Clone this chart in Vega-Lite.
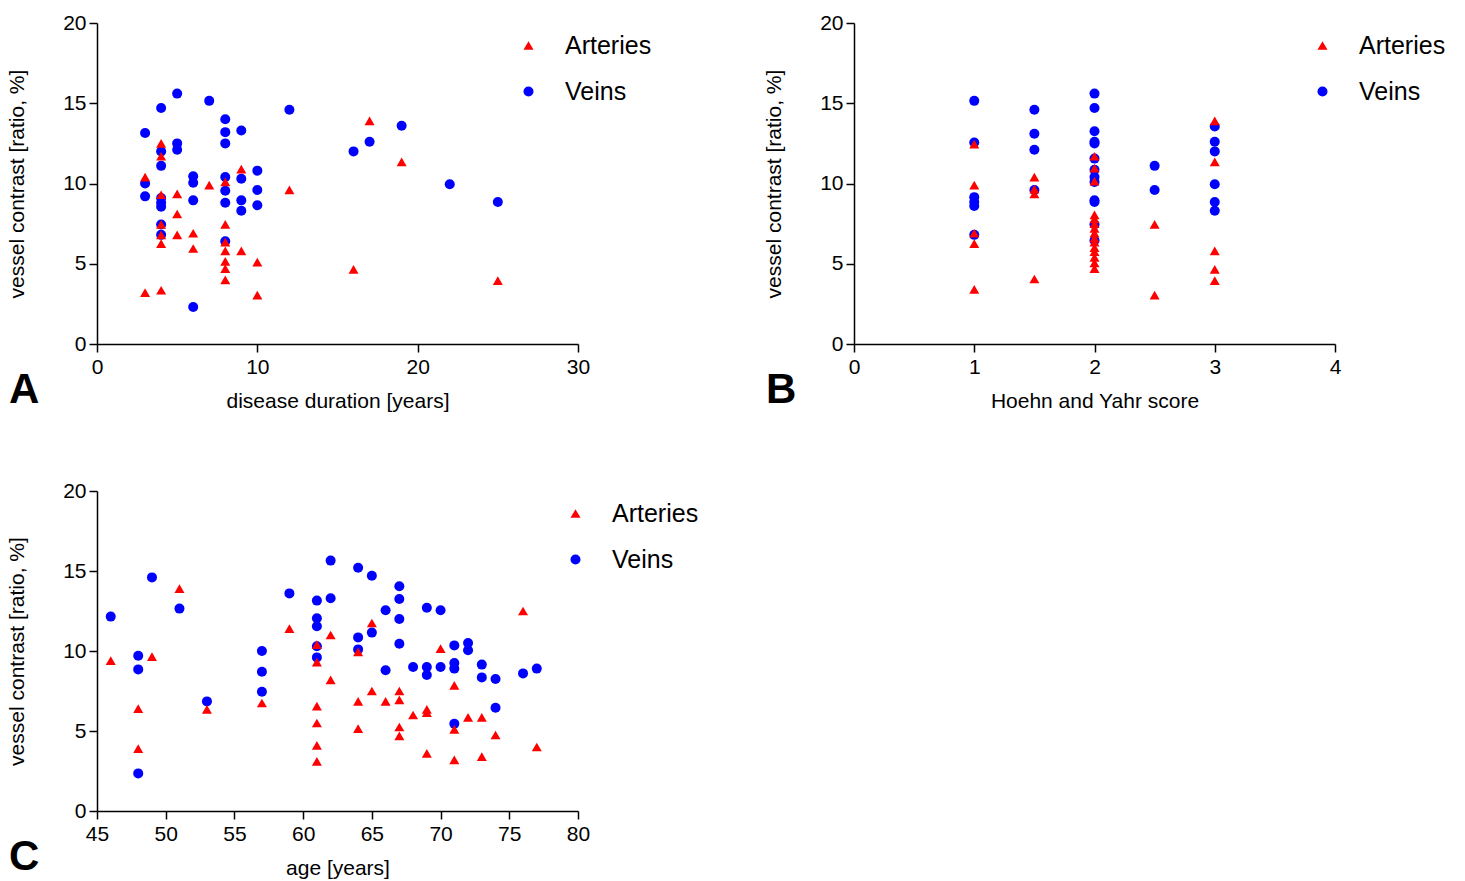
{
  "$schema": "https://vega.github.io/schema/vega-lite/v6.json",
  "autosize": "none",
  "padding": {"left": 97, "top": 23, "right": 1368, "bottom": 858},
  "background": "white",
  "config": {
    "font": "Liberation Sans",
    "view": {"stroke": null},
    "axis": {
      "grid": false,
      "labelFlush": false,
      "labelOverlap": false,
      "domainColor": "black",
      "domainWidth": 1.5,
      "tickColor": "black",
      "tickWidth": 1.5,
      "tickSize": 8,
      "labelFont": "Liberation Sans",
      "labelFontSize": 21,
      "labelColor": "black",
      "titleFont": "Liberation Sans",
      "titleFontSize": 21,
      "titleFontWeight": "normal",
      "titleColor": "black"
    },
    "axisX": {"labelPadding": 4, "titlePadding": 13},
    "axisY": {"labelPadding": 3, "titlePadding": 35},
    "legend": {
      "orient": "none",
      "title": null,
      "labelFont": "Liberation Sans",
      "labelFontSize": 25,
      "labelColor": "black",
      "symbolSize": 100,
      "rowPadding": 20,
      "labelOffset": 24,
      "padding": 0
    },
    "title": {
      "orient": "bottom",
      "anchor": "start",
      "frame": "group",
      "font": "Liberation Sans",
      "fontSize": 42,
      "fontWeight": "bold",
      "color": "black",
      "dx": -88,
      "offset": -41
    }
  },
  "datasets": {
    "dur": [
      {"vessel": "Veins", "duration": 5, "contrast": 15.6},
      {"vessel": "Veins", "duration": 4, "contrast": 14.7},
      {"vessel": "Veins", "duration": 7, "contrast": 15.15},
      {"vessel": "Veins", "duration": 12, "contrast": 14.6},
      {"vessel": "Veins", "duration": 8, "contrast": 14.0},
      {"vessel": "Veins", "duration": 3, "contrast": 13.15},
      {"vessel": "Veins", "duration": 8, "contrast": 13.2},
      {"vessel": "Veins", "duration": 9, "contrast": 13.3},
      {"vessel": "Veins", "duration": 8, "contrast": 12.5},
      {"vessel": "Veins", "duration": 5, "contrast": 12.5},
      {"vessel": "Veins", "duration": 4, "contrast": 12.0},
      {"vessel": "Veins", "duration": 5, "contrast": 12.1},
      {"vessel": "Veins", "duration": 4, "contrast": 11.1},
      {"vessel": "Veins", "duration": 6, "contrast": 10.45},
      {"vessel": "Veins", "duration": 6, "contrast": 10.05},
      {"vessel": "Veins", "duration": 8, "contrast": 10.4},
      {"vessel": "Veins", "duration": 9, "contrast": 10.3},
      {"vessel": "Veins", "duration": 10, "contrast": 10.8},
      {"vessel": "Veins", "duration": 3, "contrast": 10.0},
      {"vessel": "Veins", "duration": 3, "contrast": 9.2},
      {"vessel": "Veins", "duration": 8, "contrast": 9.55},
      {"vessel": "Veins", "duration": 10, "contrast": 9.6},
      {"vessel": "Veins", "duration": 4, "contrast": 9.1},
      {"vessel": "Veins", "duration": 4, "contrast": 8.8},
      {"vessel": "Veins", "duration": 4, "contrast": 8.55},
      {"vessel": "Veins", "duration": 6, "contrast": 8.95},
      {"vessel": "Veins", "duration": 8, "contrast": 8.8},
      {"vessel": "Veins", "duration": 9, "contrast": 8.95},
      {"vessel": "Veins", "duration": 9, "contrast": 8.3},
      {"vessel": "Veins", "duration": 10, "contrast": 8.65},
      {"vessel": "Veins", "duration": 4, "contrast": 7.45},
      {"vessel": "Veins", "duration": 4, "contrast": 6.8},
      {"vessel": "Veins", "duration": 8, "contrast": 6.4},
      {"vessel": "Veins", "duration": 6, "contrast": 2.3},
      {"vessel": "Veins", "duration": 19, "contrast": 13.6},
      {"vessel": "Veins", "duration": 17, "contrast": 12.6},
      {"vessel": "Veins", "duration": 16, "contrast": 12.0},
      {"vessel": "Veins", "duration": 22, "contrast": 9.95},
      {"vessel": "Veins", "duration": 25, "contrast": 8.85},
      {"vessel": "Arteries", "duration": 4, "contrast": 12.5},
      {"vessel": "Arteries", "duration": 4, "contrast": 11.7},
      {"vessel": "Arteries", "duration": 3, "contrast": 10.4},
      {"vessel": "Arteries", "duration": 9, "contrast": 10.9},
      {"vessel": "Arteries", "duration": 8, "contrast": 10.1},
      {"vessel": "Arteries", "duration": 7, "contrast": 9.9},
      {"vessel": "Arteries", "duration": 12, "contrast": 9.6},
      {"vessel": "Arteries", "duration": 4, "contrast": 9.3},
      {"vessel": "Arteries", "duration": 5, "contrast": 9.35},
      {"vessel": "Arteries", "duration": 5, "contrast": 8.1},
      {"vessel": "Arteries", "duration": 8, "contrast": 7.45},
      {"vessel": "Arteries", "duration": 4, "contrast": 7.45},
      {"vessel": "Arteries", "duration": 4, "contrast": 6.8},
      {"vessel": "Arteries", "duration": 5, "contrast": 6.8},
      {"vessel": "Arteries", "duration": 6, "contrast": 6.9},
      {"vessel": "Arteries", "duration": 4, "contrast": 6.25},
      {"vessel": "Arteries", "duration": 6, "contrast": 5.95},
      {"vessel": "Arteries", "duration": 8, "contrast": 6.35},
      {"vessel": "Arteries", "duration": 8, "contrast": 5.8},
      {"vessel": "Arteries", "duration": 8, "contrast": 5.15},
      {"vessel": "Arteries", "duration": 9, "contrast": 5.8},
      {"vessel": "Arteries", "duration": 8, "contrast": 4.7},
      {"vessel": "Arteries", "duration": 10, "contrast": 5.1},
      {"vessel": "Arteries", "duration": 8, "contrast": 4.0},
      {"vessel": "Arteries", "duration": 3, "contrast": 3.2},
      {"vessel": "Arteries", "duration": 4, "contrast": 3.35},
      {"vessel": "Arteries", "duration": 10, "contrast": 3.05},
      {"vessel": "Arteries", "duration": 17, "contrast": 13.9},
      {"vessel": "Arteries", "duration": 19, "contrast": 11.35},
      {"vessel": "Arteries", "duration": 16, "contrast": 4.65},
      {"vessel": "Arteries", "duration": 25, "contrast": 3.95}
    ],
    "hy": [
      {"vessel": "Veins", "score": 1, "contrast": 15.15},
      {"vessel": "Veins", "score": 1, "contrast": 12.55},
      {"vessel": "Veins", "score": 1, "contrast": 9.15},
      {"vessel": "Veins", "score": 1, "contrast": 8.85},
      {"vessel": "Veins", "score": 1, "contrast": 8.6},
      {"vessel": "Veins", "score": 1, "contrast": 6.8},
      {"vessel": "Veins", "score": 1.5, "contrast": 14.6},
      {"vessel": "Veins", "score": 1.5, "contrast": 13.1},
      {"vessel": "Veins", "score": 1.5, "contrast": 12.1},
      {"vessel": "Veins", "score": 1.5, "contrast": 9.6},
      {"vessel": "Veins", "score": 2, "contrast": 15.6},
      {"vessel": "Veins", "score": 2, "contrast": 14.7},
      {"vessel": "Veins", "score": 2, "contrast": 13.25},
      {"vessel": "Veins", "score": 2, "contrast": 12.6},
      {"vessel": "Veins", "score": 2, "contrast": 12.5},
      {"vessel": "Veins", "score": 2, "contrast": 11.55},
      {"vessel": "Veins", "score": 2, "contrast": 10.85},
      {"vessel": "Veins", "score": 2, "contrast": 10.4},
      {"vessel": "Veins", "score": 2, "contrast": 10.1},
      {"vessel": "Veins", "score": 2, "contrast": 8.95},
      {"vessel": "Veins", "score": 2, "contrast": 8.85},
      {"vessel": "Veins", "score": 2, "contrast": 7.45},
      {"vessel": "Veins", "score": 2, "contrast": 6.45},
      {"vessel": "Veins", "score": 2.5, "contrast": 11.1},
      {"vessel": "Veins", "score": 2.5, "contrast": 9.6},
      {"vessel": "Veins", "score": 3, "contrast": 13.55},
      {"vessel": "Veins", "score": 3, "contrast": 12.6},
      {"vessel": "Veins", "score": 3, "contrast": 12.0},
      {"vessel": "Veins", "score": 3, "contrast": 9.95},
      {"vessel": "Veins", "score": 3, "contrast": 8.85},
      {"vessel": "Veins", "score": 3, "contrast": 8.3},
      {"vessel": "Arteries", "score": 1, "contrast": 12.45},
      {"vessel": "Arteries", "score": 1, "contrast": 9.9},
      {"vessel": "Arteries", "score": 1, "contrast": 6.9},
      {"vessel": "Arteries", "score": 1, "contrast": 6.25},
      {"vessel": "Arteries", "score": 1, "contrast": 3.4},
      {"vessel": "Arteries", "score": 1.5, "contrast": 10.4},
      {"vessel": "Arteries", "score": 1.5, "contrast": 9.65},
      {"vessel": "Arteries", "score": 1.5, "contrast": 9.35},
      {"vessel": "Arteries", "score": 1.5, "contrast": 4.05},
      {"vessel": "Arteries", "score": 2, "contrast": 11.7},
      {"vessel": "Arteries", "score": 2, "contrast": 10.95},
      {"vessel": "Arteries", "score": 2, "contrast": 10.15},
      {"vessel": "Arteries", "score": 2, "contrast": 8.05},
      {"vessel": "Arteries", "score": 2, "contrast": 7.8},
      {"vessel": "Arteries", "score": 2, "contrast": 7.5},
      {"vessel": "Arteries", "score": 2, "contrast": 7.2},
      {"vessel": "Arteries", "score": 2, "contrast": 6.9},
      {"vessel": "Arteries", "score": 2, "contrast": 6.6},
      {"vessel": "Arteries", "score": 2, "contrast": 6.35},
      {"vessel": "Arteries", "score": 2, "contrast": 6.0},
      {"vessel": "Arteries", "score": 2, "contrast": 5.75},
      {"vessel": "Arteries", "score": 2, "contrast": 5.4},
      {"vessel": "Arteries", "score": 2, "contrast": 5.05},
      {"vessel": "Arteries", "score": 2, "contrast": 4.7},
      {"vessel": "Arteries", "score": 2.5, "contrast": 7.45},
      {"vessel": "Arteries", "score": 2.5, "contrast": 3.05},
      {"vessel": "Arteries", "score": 3, "contrast": 13.9},
      {"vessel": "Arteries", "score": 3, "contrast": 11.35},
      {"vessel": "Arteries", "score": 3, "contrast": 5.8},
      {"vessel": "Arteries", "score": 3, "contrast": 4.65},
      {"vessel": "Arteries", "score": 3, "contrast": 3.95}
    ],
    "age": [
      {"vessel": "Veins", "age": 46, "contrast": 12.15},
      {"vessel": "Veins", "age": 48, "contrast": 9.7},
      {"vessel": "Veins", "age": 48, "contrast": 8.85},
      {"vessel": "Veins", "age": 48, "contrast": 2.35},
      {"vessel": "Veins", "age": 49, "contrast": 14.6},
      {"vessel": "Veins", "age": 51, "contrast": 12.65},
      {"vessel": "Veins", "age": 53, "contrast": 6.85},
      {"vessel": "Veins", "age": 57, "contrast": 10.0},
      {"vessel": "Veins", "age": 57, "contrast": 8.7},
      {"vessel": "Veins", "age": 57, "contrast": 7.45},
      {"vessel": "Veins", "age": 59, "contrast": 13.6},
      {"vessel": "Veins", "age": 61, "contrast": 13.15},
      {"vessel": "Veins", "age": 61, "contrast": 12.05},
      {"vessel": "Veins", "age": 61, "contrast": 11.55},
      {"vessel": "Veins", "age": 61, "contrast": 10.3},
      {"vessel": "Veins", "age": 61, "contrast": 9.6},
      {"vessel": "Veins", "age": 62, "contrast": 15.65},
      {"vessel": "Veins", "age": 62, "contrast": 13.3},
      {"vessel": "Veins", "age": 64, "contrast": 15.2},
      {"vessel": "Veins", "age": 65, "contrast": 14.7},
      {"vessel": "Veins", "age": 67, "contrast": 14.05},
      {"vessel": "Veins", "age": 67, "contrast": 13.25},
      {"vessel": "Veins", "age": 66, "contrast": 12.55},
      {"vessel": "Veins", "age": 67, "contrast": 12.0},
      {"vessel": "Veins", "age": 69, "contrast": 12.7},
      {"vessel": "Veins", "age": 70, "contrast": 12.55},
      {"vessel": "Veins", "age": 64, "contrast": 10.85},
      {"vessel": "Veins", "age": 65, "contrast": 11.15},
      {"vessel": "Veins", "age": 64, "contrast": 10.1},
      {"vessel": "Veins", "age": 67, "contrast": 10.45},
      {"vessel": "Veins", "age": 71, "contrast": 10.35},
      {"vessel": "Veins", "age": 72, "contrast": 10.5},
      {"vessel": "Veins", "age": 72, "contrast": 10.05},
      {"vessel": "Veins", "age": 66, "contrast": 8.8},
      {"vessel": "Veins", "age": 68, "contrast": 9.0},
      {"vessel": "Veins", "age": 69, "contrast": 9.0},
      {"vessel": "Veins", "age": 69, "contrast": 8.5},
      {"vessel": "Veins", "age": 70, "contrast": 9.0},
      {"vessel": "Veins", "age": 71, "contrast": 9.25},
      {"vessel": "Veins", "age": 71, "contrast": 8.9},
      {"vessel": "Veins", "age": 73, "contrast": 9.15},
      {"vessel": "Veins", "age": 73, "contrast": 8.35},
      {"vessel": "Veins", "age": 74, "contrast": 8.25},
      {"vessel": "Veins", "age": 76, "contrast": 8.6},
      {"vessel": "Veins", "age": 77, "contrast": 8.9},
      {"vessel": "Veins", "age": 74, "contrast": 6.45},
      {"vessel": "Veins", "age": 71, "contrast": 5.45},
      {"vessel": "Arteries", "age": 46, "contrast": 9.4},
      {"vessel": "Arteries", "age": 48, "contrast": 6.4},
      {"vessel": "Arteries", "age": 48, "contrast": 3.9},
      {"vessel": "Arteries", "age": 49, "contrast": 9.65},
      {"vessel": "Arteries", "age": 51, "contrast": 13.9},
      {"vessel": "Arteries", "age": 53, "contrast": 6.35},
      {"vessel": "Arteries", "age": 57, "contrast": 6.75},
      {"vessel": "Arteries", "age": 59, "contrast": 11.4},
      {"vessel": "Arteries", "age": 61, "contrast": 10.4},
      {"vessel": "Arteries", "age": 61, "contrast": 9.3},
      {"vessel": "Arteries", "age": 61, "contrast": 6.55},
      {"vessel": "Arteries", "age": 61, "contrast": 5.5},
      {"vessel": "Arteries", "age": 61, "contrast": 4.1},
      {"vessel": "Arteries", "age": 61, "contrast": 3.1},
      {"vessel": "Arteries", "age": 62, "contrast": 11.0},
      {"vessel": "Arteries", "age": 62, "contrast": 8.2},
      {"vessel": "Arteries", "age": 65, "contrast": 11.75},
      {"vessel": "Arteries", "age": 64, "contrast": 9.95},
      {"vessel": "Arteries", "age": 70, "contrast": 10.15},
      {"vessel": "Arteries", "age": 76, "contrast": 12.5},
      {"vessel": "Arteries", "age": 71, "contrast": 7.85},
      {"vessel": "Arteries", "age": 65, "contrast": 7.5},
      {"vessel": "Arteries", "age": 67, "contrast": 7.5},
      {"vessel": "Arteries", "age": 64, "contrast": 6.85},
      {"vessel": "Arteries", "age": 66, "contrast": 6.85},
      {"vessel": "Arteries", "age": 67, "contrast": 6.95},
      {"vessel": "Arteries", "age": 69, "contrast": 6.35},
      {"vessel": "Arteries", "age": 69, "contrast": 6.15},
      {"vessel": "Arteries", "age": 68, "contrast": 6.0},
      {"vessel": "Arteries", "age": 72, "contrast": 5.85},
      {"vessel": "Arteries", "age": 73, "contrast": 5.85},
      {"vessel": "Arteries", "age": 64, "contrast": 5.15},
      {"vessel": "Arteries", "age": 67, "contrast": 5.25},
      {"vessel": "Arteries", "age": 67, "contrast": 4.7},
      {"vessel": "Arteries", "age": 71, "contrast": 5.1},
      {"vessel": "Arteries", "age": 74, "contrast": 4.75},
      {"vessel": "Arteries", "age": 69, "contrast": 3.6},
      {"vessel": "Arteries", "age": 71, "contrast": 3.2},
      {"vessel": "Arteries", "age": 73, "contrast": 3.4},
      {"vessel": "Arteries", "age": 77, "contrast": 4.0}
    ]
  },
  "vconcat": [
    {
      "hconcat": [
        {
          "data": {"name": "dur"},
          "width": 481,
          "height": 321,
          "title": {"text": "A"},
          "mark": {"type": "point", "filled": true, "opacity": 1, "size": 100},
          "encoding": {
            "x": {"field": "duration", "type": "quantitative", "scale": {"domain": [0, 30], "nice": false}, "axis": {"values": [0, 10, 20, 30], "title": "disease duration [years]"}},
            "y": {"field": "contrast", "type": "quantitative", "scale": {"domain": [0, 20], "nice": false}, "axis": {"values": [0, 5, 10, 15, 20], "title": "vessel contrast [ratio, %]"}},
            "color": {"field": "vessel", "type": "nominal", "scale": {"domain": ["Arteries", "Veins"], "range": ["#ff0000", "#0000ff"]}, "legend": {"legendX": 419, "legendY": 10}},
            "shape": {"field": "vessel", "type": "nominal", "scale": {"domain": ["Arteries", "Veins"], "range": ["triangle-up", "circle"]}, "legend": {"legendX": 419, "legendY": 10}}
          }
        },
        {
          "data": {"name": "hy"},
          "width": 481,
          "height": 321,
          "title": {"text": "B"},
          "mark": {"type": "point", "filled": true, "opacity": 1, "size": 100},
          "encoding": {
            "x": {"field": "score", "type": "quantitative", "scale": {"domain": [0, 4], "nice": false}, "axis": {"values": [0, 1, 2, 3, 4], "title": "Hoehn and Yahr score"}},
            "y": {"field": "contrast", "type": "quantitative", "scale": {"domain": [0, 20], "nice": false}, "axis": {"values": [0, 5, 10, 15, 20], "title": "vessel contrast [ratio, %]"}},
            "color": {"field": "vessel", "type": "nominal", "scale": {"domain": ["Arteries", "Veins"], "range": ["#ff0000", "#0000ff"]}, "legend": {"legendX": 456, "legendY": 10}},
            "shape": {"field": "vessel", "type": "nominal", "scale": {"domain": ["Arteries", "Veins"], "range": ["triangle-up", "circle"]}, "legend": {"legendX": 456, "legendY": 10}}
          }
        }
      ],
      "spacing": 276,
      "bounds": "flush",
      "resolve": {"scale": {"color": "independent", "shape": "independent"}, "legend": {"color": "independent", "shape": "independent"}}
    },
    {
      "data": {"name": "age"},
      "width": 481,
      "height": 320,
      "title": {"text": "C"},
      "mark": {"type": "point", "filled": true, "opacity": 1, "size": 100},
      "encoding": {
        "x": {"field": "age", "type": "quantitative", "scale": {"domain": [45, 80], "nice": false, "zero": false}, "axis": {"values": [45, 50, 55, 60, 65, 70, 75, 80], "title": "age [years]"}},
        "y": {"field": "contrast", "type": "quantitative", "scale": {"domain": [0, 20], "nice": false}, "axis": {"values": [0, 5, 10, 15, 20], "title": "vessel contrast [ratio, %]"}},
        "color": {"field": "vessel", "type": "nominal", "scale": {"domain": ["Arteries", "Veins"], "range": ["#ff0000", "#0000ff"]}, "legend": {"legendX": 466, "legendY": 10}},
        "shape": {"field": "vessel", "type": "nominal", "scale": {"domain": ["Arteries", "Veins"], "range": ["triangle-up", "circle"]}, "legend": {"legendX": 466, "legendY": 10}}
      }
    }
  ],
  "spacing": 468,
  "bounds": "flush",
  "resolve": {"scale": {"color": "independent", "shape": "independent"}, "legend": {"color": "independent", "shape": "independent"}}
}
